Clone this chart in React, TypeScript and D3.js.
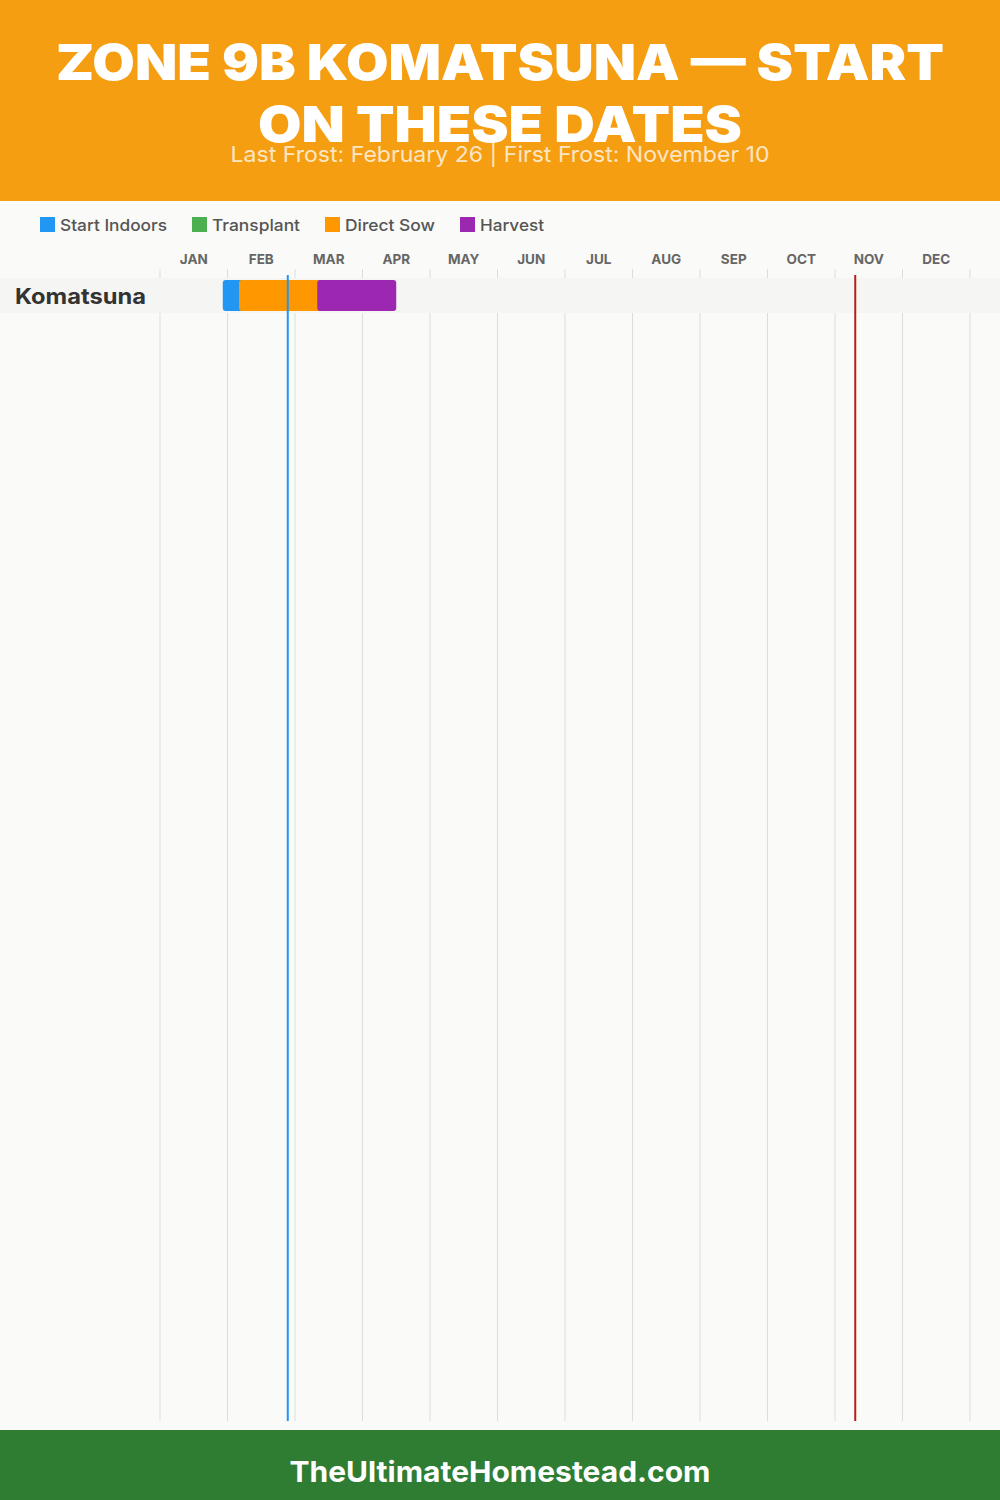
import { useMemo } from 'react';
import * as d3 from 'd3';

const MONTHS = ['JAN', 'FEB', 'MAR', 'APR', 'MAY', 'JUN', 'JUL', 'AUG', 'SEP', 'OCT', 'NOV', 'DEC'];
const MONTH_TICKS = [0, 1, 2, 3, 4, 5, 6, 7, 8, 9, 10, 11, 12];
const TITLE_LINES = ['ZONE 9B KOMATSUNA — START', 'ON THESE DATES'];
const SUBTITLE = 'Last Frost: February 26 | First Frost: November 10';
const FOOTER = 'TheUltimateHomestead.com';

const LEGEND_LABELS = ['Start Indoors', 'Transplant', 'Direct Sow', 'Harvest'];
const LEGEND_COLORS = ['#2196f3', '#4caf50', '#ff9800', '#9c27b0'];

const CROPS = ['Komatsuna'];
// spans in months from Jan 1, drawn in this order
const SPAN_TYPES = ['Start Indoors', 'Direct Sow', 'Harvest'];
const SPAN_STARTS = [0.93, 1.17, 2.33];
const SPAN_ENDS = [1.25, 2.4, 3.5];

const LAST_FROST = 1 + 25 / 28;
const FIRST_FROST = 10 + 9 / 30;

const FONT = 'Inter, "Noto Sans", sans-serif';
const LEGEND_X = [40, 192, 325, 460];
const LEGEND_TEXT_W = [107, 88, 90, 64];

export default function App() {
  const x = useMemo(() => d3.scaleLinear().domain([0, 12]).range([160, 970]), []);
  const y = useMemo(() => d3.scaleBand<string>().domain(CROPS).range([278, 313]), []);
  const color = d3.scaleOrdinal<string, string>().domain(LEGEND_LABELS).range(LEGEND_COLORS);

  return (
    <svg
      width={1000}
      height={1500}
      viewBox="0 0 1000 1500"
      style={{ position: 'absolute', left: 0, top: 0, display: 'block' }}
      fontFamily={FONT}
    >
      <rect x={0} y={0} width={1000} height={1500} fill="#fafaf8" />

      {/* Header */}
      <rect x={0} y={0} width={1000} height={201} fill="#f59e12" />
      <text x={500} y={80} textAnchor="middle" fill="#fff" fontSize={50} fontWeight={900} textLength={888} lengthAdjust="spacingAndGlyphs">
        {TITLE_LINES[0]}
      </text>
      <text x={500} y={142} textAnchor="middle" fill="#fff" fontSize={50} fontWeight={900} textLength={484} lengthAdjust="spacingAndGlyphs">
        {TITLE_LINES[1]}
      </text>
      <text x={500} y={162} textAnchor="middle" fill="#fff" fillOpacity={0.75} fontSize={22} textLength={539} lengthAdjust="spacingAndGlyphs">
        {SUBTITLE}
      </text>

      {/* Legend */}
      {LEGEND_LABELS.map((label, i) => (
        <g key={label}>
          <rect x={LEGEND_X[i]} y={217} width={15} height={15} fill={color(label)} />
          <text x={LEGEND_X[i] + 20} y={231} fontSize={16.5} fontWeight={500} fill="#555" textLength={LEGEND_TEXT_W[i]} lengthAdjust="spacingAndGlyphs">
            {label}
          </text>
        </g>
      ))}

      {/* Month grid */}
      {MONTH_TICKS.map((t) => (
        <line key={t} x1={x(t)} x2={x(t)} y1={269} y2={1421} stroke="#ddd" strokeWidth={1} />
      ))}
      {MONTHS.map((m, i) => (
        <text key={m} x={x(i + 0.5)} y={264} textAnchor="middle" fontSize={13.5} fontWeight={700} fill="#666">
          {m}
        </text>
      ))}

      {/* Crop rows */}
      {CROPS.map((crop) => (
        <g key={crop}>
          <rect x={0} y={y(crop)} width={1000} height={y.bandwidth()} fill="#f5f5f4" />
          <text x={15} y={y(crop)! + 26} fontSize={21.5} fontWeight={700} fill="#333" textLength={131} lengthAdjust="spacingAndGlyphs">
            {crop}
          </text>
          {SPAN_TYPES.map((type, i) => (
            <rect
              key={type}
              x={x(SPAN_STARTS[i])}
              y={y(crop)! + 2}
              width={x(SPAN_ENDS[i]) - x(SPAN_STARTS[i])}
              height={y.bandwidth() - 4}
              rx={3}
              fill={color(type)}
            />
          ))}
        </g>
      ))}

      {/* Frost lines */}
      <line x1={x(LAST_FROST)} x2={x(LAST_FROST)} y1={275} y2={1421} stroke="#2196f3" strokeWidth={2} />
      <line x1={x(FIRST_FROST)} x2={x(FIRST_FROST)} y1={275} y2={1421} stroke="#b71c1c" strokeWidth={2} />

      {/* Footer */}
      <rect x={0} y={1430} width={1000} height={70} fill="#2e7d32" />
      <text x={500} y={1482} textAnchor="middle" fill="#fff" fontSize={29} fontWeight={700} textLength={421} lengthAdjust="spacingAndGlyphs">
        {FOOTER}
      </text>
    </svg>
  );
}
